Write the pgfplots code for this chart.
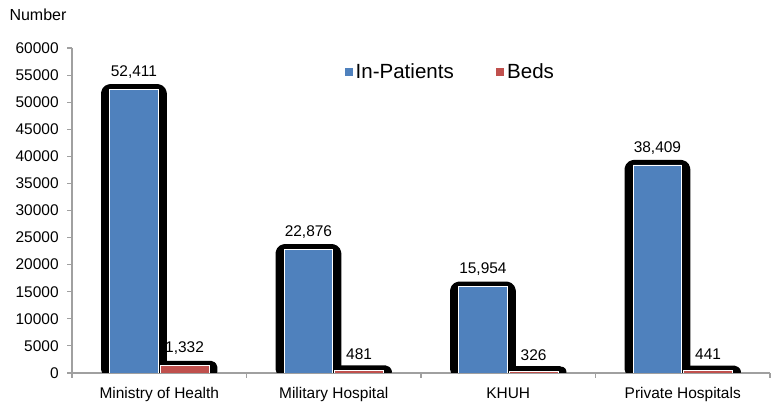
\documentclass[border=0pt]{standalone}
\usepackage{pgfplots}
\pgfplotsset{compat=1.18}
\usepackage{fontspec}
\setmainfont{Liberation Sans}
\definecolor{bblue}{HTML}{4F81BD}
\definecolor{bred}{HTML}{C0504D}
\definecolor{axgray}{HTML}{A0A0A0}
\begin{document}
\begin{tikzpicture}
\begin{axis}[name=ax, at={(0,0)}, anchor=south west,
  scale only axis, width=523.5pt, height=243.75pt,
  xmin=-0.5, xmax=3.5, ymin=0, ymax=60000,
  ybar,
  axis x line=bottom, axis y line=left,
  axis line style={axgray, line width=0.8pt, -},
  tick style={axgray, line width=0.8pt},
  tick align=outside, major tick length=3.5pt,
  ytick={0,5000,...,60000},
  scaled y ticks=false,
  yticklabel style={/pgf/number format/1000 sep={}, xshift=-3pt},
  /pgf/number format/assume math mode=true,
  xtick={-0.5,0.5,1.5,2.5,3.5},
  xticklabels={Ministry of Health, Military Hospital, KHUH, Private Hospitals, {}},
  x tick label style={xshift=65.44pt, yshift=-4pt},
  tick label style={font=\fontsize{11.6}{14}\selectfont, black},
  legend style={draw=none, fill=none, at={(0.385,0.925)}, anchor=west,
    font=\fontsize{15.4}{18}\selectfont,
    /tikz/every even column/.append style={column sep=30pt}},
  legend columns=2,
  legend image code/.code={\fill[#1,draw=none] (0pt,-3pt) rectangle (6pt,3pt);},
  nodes near coords={\pgfmathprintnumber[fixed,precision=0,1000 sep={,}]{\pgfplotspointmeta}},
  every node near coord/.append style={font=\fontsize{11.6}{14}\selectfont, black, yshift=4.5pt},
]
% shadows
\addplot[bar shift=-19pt, bar width=41.8pt, fill=black, draw=black, line width=7.5pt, line join=round, rounded corners=3pt, nodes near coords={}, forget plot]
  coordinates {(0,52411) (1,22876) (2,15954) (3,38409)};
\addplot[bar shift=19pt, bar width=41.8pt, fill=black, draw=black, line width=7.5pt, line join=round, rounded corners=1pt, nodes near coords={}, forget plot]
  coordinates {(0,1332) (1,481) (2,326) (3,441)};
% bars
\addplot[bar shift=-19pt, bar width=36.5pt, fill=bblue, draw=white, line width=0.6pt]
  coordinates {(0,52411) (1,22876) (2,15954) (3,38409)};
\addlegendentry{In-Patients}
\addplot[bar shift=19pt, bar width=36.5pt, fill=bred, draw=white, line width=0.6pt]
  coordinates {(0,1332) (1,481) (2,326) (3,441)};
\addlegendentry{Beds}
\end{axis}
\node[font=\fontsize{12}{14}\selectfont] at (-25.5pt,268.5pt) {Number};
\pgfresetboundingbox
\path[use as bounding box] (-54pt,-22.5pt) rectangle (524.25pt,279.75pt);
\end{tikzpicture}
\end{document}
